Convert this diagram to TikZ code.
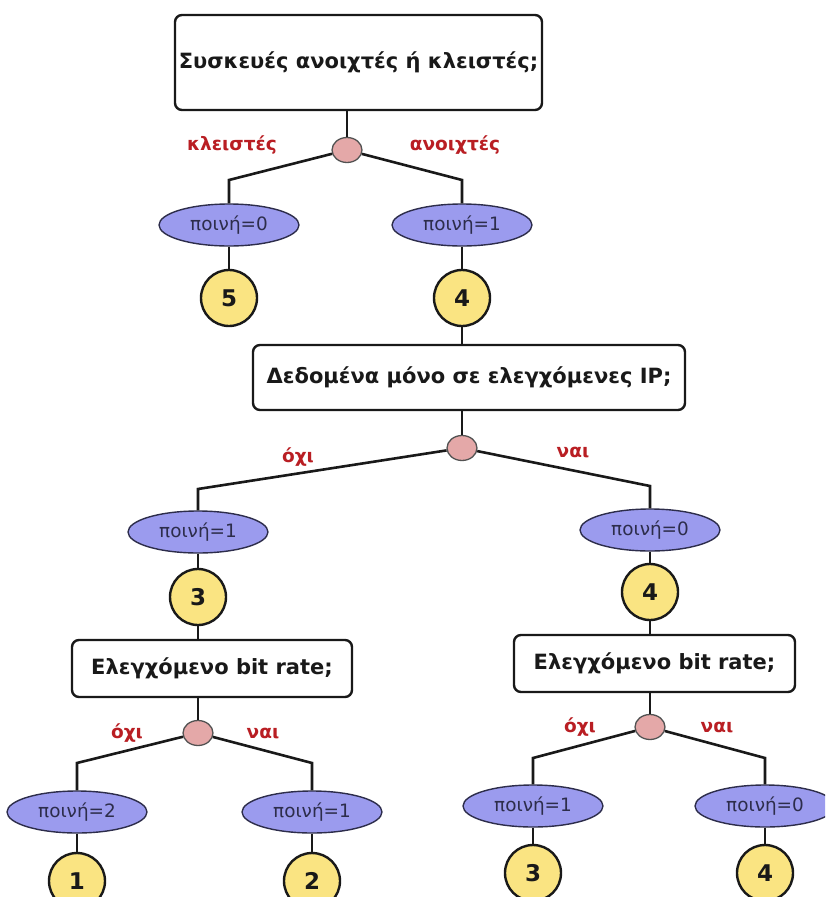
\documentclass[tikz,border=0pt]{standalone}
\usepackage{fontspec}
\setmainfont{DejaVu Sans}
\usetikzlibrary{shapes.geometric}
\definecolor{lav}{RGB}{155,155,238}
\definecolor{lavtext}{RGB}{45,45,75}
\definecolor{scorey}{RGB}{250,228,130}
\definecolor{jpink}{RGB}{228,168,168}
\definecolor{lblred}{RGB}{185,30,35}
\definecolor{ink}{RGB}{25,25,25}
\tikzset{
  qbox/.style={draw=ink, line width=2.4pt, rounded corners=7pt, fill=white, inner sep=0pt,
    font=\bfseries\fontsize{21}{24}\selectfont, text=ink},
  jn/.style={ellipse, draw=ink!75, line width=1.3pt, fill=jpink, minimum width=30pt, minimum height=25pt, inner sep=0pt},
  pen/.style={ellipse, draw=lavtext, line width=1.4pt, fill=lav, minimum width=140pt, minimum height=42pt, inner sep=0pt,
    font=\fontsize{18.4}{21}\selectfont, text=lavtext},
  score/.style={circle, draw=ink, line width=2.4pt, fill=scorey, minimum size=56pt, inner sep=0pt,
    font=\bfseries\fontsize{23}{26}\selectfont, text=ink},
  lbl/.style={font=\bfseries\fontsize{18.5}{21}\selectfont, text=lblred, inner sep=0pt},
  conn/.style={draw=ink, line width=2.6pt}
}
\begin{document}
\begin{tikzpicture}[x=1pt,y=-1pt]
\useasboundingbox (0,0) rectangle (825,897);
\clip (0,0) rectangle (825,897);
\fill[white] (0,0) rectangle (825,897);

% boxes
\node[qbox, minimum width=367pt, minimum height=95pt] (q1) at (358.5,62.5) {Συσκευές ανοιχτές ή κλειστές;};
\node[qbox, minimum width=432pt, minimum height=65pt] (q2) at (469,377.5) {Δεδομένα μόνο σε ελεγχόμενες IP;};
\node[qbox, minimum width=280pt, minimum height=57pt] (q3) at (212,668.5) {Ελεγχόμενο bit rate;};
\node[qbox, minimum width=281pt, minimum height=57pt] (q4) at (654.5,663.5) {Ελεγχόμενο bit rate;};

% junctions
\node[jn] (j1) at (347,150) {};
\node[jn] (j2) at (462,448) {};
\node[jn] (j3) at (198,733) {};
\node[jn] (j4) at (650,727) {};

% penalty ellipses
\node[pen] (e1) at (229,225) {ποινή=0};
\node[pen] (e2) at (462,225) {ποινή=1};
\node[pen] (e3) at (198,532) {ποινή=1};
\node[pen] (e4) at (650,530) {ποινή=0};
\node[pen] (e5) at (77,812) {ποινή=2};
\node[pen] (e6) at (312,812) {ποινή=1};
\node[pen] (e7) at (533,806) {ποινή=1};
\node[pen] (e8) at (765,806) {ποινή=0};

% scores
\node[score] (s1) at (229,298) {5};
\node[score] (s2) at (462,298) {4};
\node[score] (s3) at (198,597) {3};
\node[score] (s4) at (650,592) {4};
\node[score] (s5) at (77,881) {1};
\node[score] (s6) at (312,881) {2};
\node[score] (s7) at (533,873) {3};
\node[score] (s8) at (765,873) {4};

% corner coordinates
\coordinate (c1l) at (229,180);
\coordinate (c1r) at (462,180);
\coordinate (c2l) at (198,489);
\coordinate (c2r) at (650,486);
\coordinate (c3l) at (77,763);
\coordinate (c3r) at (312,763);
\coordinate (c4l) at (533,758);
\coordinate (c4r) at (765,758);

% connectors
\draw[conn] (q1.south -| j1) -- (j1);
\draw[conn] (j1) -- (c1l) -- (e1);
\draw[conn] (j1) -- (c1r) -- (e2);
\draw[conn] (e1) -- (s1);
\draw[conn] (e2) -- (s2);
\draw[conn] (s2) -- (s2 |- q2.north);
\draw[conn] (q2.south -| j2) -- (j2);
\draw[conn] (j2) -- (c2l) -- (e3);
\draw[conn] (j2) -- (c2r) -- (e4);
\draw[conn] (e3) -- (s3);
\draw[conn] (e4) -- (s4);
\draw[conn] (s3) -- (s3 |- q3.north);
\draw[conn] (s4) -- (s4 |- q4.north);
\draw[conn] (q3.south -| j3) -- (j3);
\draw[conn] (q4.south -| j4) -- (j4);
\draw[conn] (j3) -- (c3l) -- (e5);
\draw[conn] (j3) -- (c3r) -- (e6);
\draw[conn] (j4) -- (c4l) -- (e7);
\draw[conn] (j4) -- (c4r) -- (e8);
\draw[conn] (e5) -- (s5);
\draw[conn] (e6) -- (s6);
\draw[conn] (e7) -- (s7);
\draw[conn] (e8) -- (s8);

% labels
\node[lbl] (l1) at (232,145) {κλειστές};
\node[lbl] (l2) at (455,145) {ανοιχτές};
\node[lbl] (l3) at (298,457) {όχι};
\node[lbl] (l4) at (573,452) {ναι};
\node[lbl] (l5) at (127,733) {όχι};
\node[lbl] (l6) at (263,733) {ναι};
\node[lbl] (l7) at (580,727) {όχι};
\node[lbl] (l8) at (717,727) {ναι};
\end{tikzpicture}
\end{document}
